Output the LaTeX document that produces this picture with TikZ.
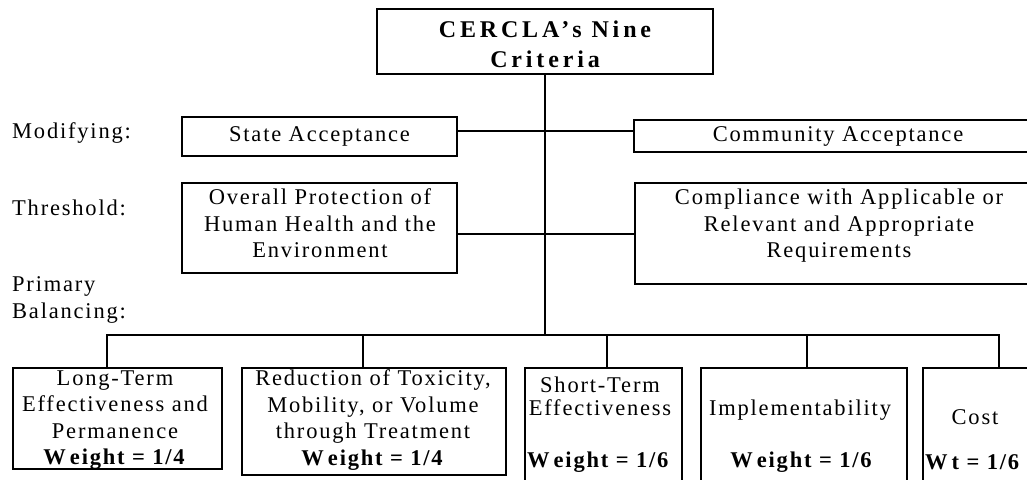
\documentclass[tikz,border=0pt]{standalone}
\usepackage{fontspec}
\setmainfont{Liberation Serif}[LetterSpace=8]
\newfontfamily\titlefont{Liberation Serif}[LetterSpace=16]
\newcommand\bodyfont{\fontsize{22.5}{26.5}\selectfont}
\newcommand\Wgap{W\kern4pt }
\begin{document}
\begin{tikzpicture}[x=1pt,y=-1pt,
  box/.style={draw,line width=2pt,inner sep=0pt,outer sep=0pt},
  txt/.style={inner sep=0pt,align=center,font=\bodyfont},
  lbl/.style={inner sep=0pt,anchor=west,align=left,font=\bodyfont},
  wt/.style={inner sep=0pt,font=\bodyfont\bfseries},
  conn/.style={line width=2pt}]
\useasboundingbox (0,0) rectangle (1027,479);
\fill[white] (0,0) rectangle (1027,479);

% title
\node[box,line width=2.6pt,minimum width=336pt,minimum height=65pt] (title) at (545,41.5) {};
\node[inner sep=0pt,align=center,font={\titlefont\bfseries\fontsize{24}{30}\selectfont}] (titletxt) at (545,44) {CERCLA’s Nine\\Criteria};

% side labels
\node[lbl] (lmod) at (12,133) {Modifying:};
\node[lbl] (lthr) at (12,208) {Threshold:};
\node[lbl] (lpri) at (12,300) {Primary\\Balancing:};

% modifying row
\node[box,minimum width=275pt,minimum height=39pt] (stbox) at (319.5,136.5) {};
\node[txt] (sttxt) at (319.5,136.5) {State Acceptance};
\node[box,minimum width=408pt,minimum height=32pt] (combox) at (838,136) {};
\node[txt] (comtxt) at (838,136) {Community Acceptance};

% threshold row
\node[box,minimum width=275pt,minimum height=90pt] (ovbox) at (319.5,228) {};
\node[txt] (ovtxt) at (320,223.5) {Overall Protection of\\Human Health and the\\Environment};
\node[box,minimum width=407pt,minimum height=101pt] (cpbox) at (838.5,233.5) {};
\node[txt] (cptxt) at (839,226) {Compliance with Applicable or\\Relevant and Appropriate\\Requirements};

% balancing boxes
\node[box,minimum width=209pt,minimum height=101pt] (b1) at (117.5,418.5) {};
\node[txt] (t1) at (115,420) {Long-Term\\Effectiveness and\\Permanence\\\textbf{\Wgap eight = 1/4}};
\node[box,minimum width=264pt,minimum height=107pt] (b2) at (374,421.5) {};
\node[txt] (t2) at (373,420) {Reduction of Toxicity,\\Mobility, or Volume\\through Treatment\\\textbf{\Wgap eight = 1/4}};
\node[box,minimum width=157pt,minimum height=122pt] (b3) at (603.5,429) {};
\node[txt,font={\fontsize{22.5}{23.5}\selectfont}] (t3) at (600,396.5) {Short-Term\\Effectiveness};
\node[wt,anchor=west] (w3) at (527,462) {\Wgap eight = 1/6};
\node[box,minimum width=206pt,minimum height=122pt] (b4) at (804,429) {};
\node[txt] (t4) at (800,410) {Implementability};
\node[wt] (w4) at (801,462) {\Wgap eight = 1/6};
\node[box,minimum width=119pt,minimum height=122pt] (b5) at (982.5,429) {};
\node[txt] (t5) at (975,417) {Cost};
\node[wt,anchor=west] (w5) at (925,462) {\Wgap t = 1/6};

% connectors
\coordinate (tb) at (545,335);
\draw[conn] (title.south) -- (tb);
\draw[conn] ([yshift=5.5pt]stbox.east) -- ([yshift=5.5pt]stbox.east -| combox.west);
\draw[conn] ([yshift=-6pt]ovbox.east) -- ([yshift=-6pt]ovbox.east -| cpbox.west);
\draw[conn] ([xshift=-10.5pt]b1.north) |- (tb) -| ([xshift=16.5pt]b5.north);
\draw[conn] ([xshift=-11pt]b2.north) -- ([xshift=-11pt]b2.north |- tb);
\draw[conn] ([xshift=3.5pt]b3.north) -- ([xshift=3.5pt]b3.north |- tb);
\draw[conn] ([xshift=3pt]b4.north) -- ([xshift=3pt]b4.north |- tb);
\end{tikzpicture}
\end{document}
